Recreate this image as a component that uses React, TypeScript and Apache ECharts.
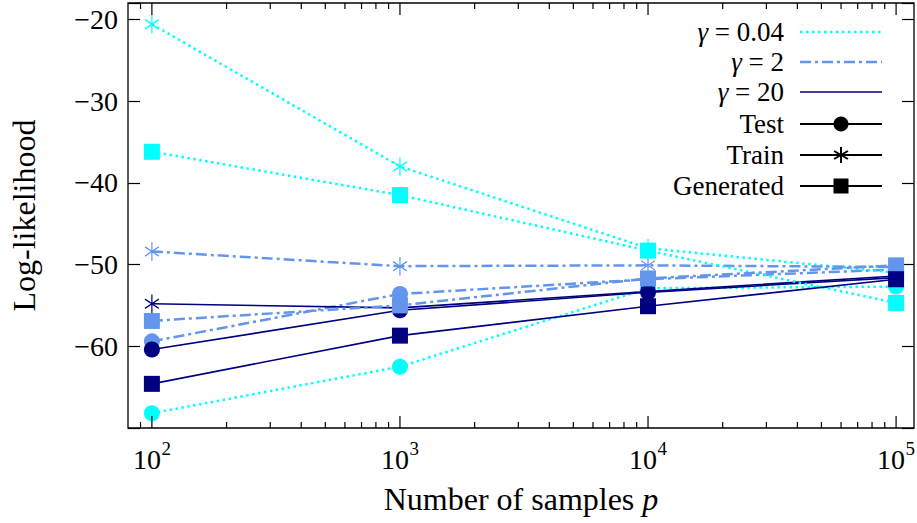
import React, { useEffect, useRef } from 'react';
import * as echarts from 'echarts';

// ---- data ----
const samples = [100, 1000, 10000, 100000];
const gammaLabels = ['0.04', '2', '20'];
const typeLabels = ['Test', 'Train', 'Generated'];

const testG004 = [-68.2, -62.5, -52.9, -52.7];
const testG2 = [-59.4, -53.6, -51.8, -50.6];
const testG20 = [-60.4, -55.6, -53.4, -51.6];

const trainG004 = [-20.6, -38.0, -48.0, -51.0];
const trainG2 = [-48.4, -50.2, -50.1, -50.3];
const trainG20 = [-54.8, -55.3, -53.3, -51.4];

const genG004 = [-36.2, -41.5, -48.3, -54.7];
const genG2 = [-56.9, -55.0, -51.7, -50.1];
const genG20 = [-64.6, -58.7, -55.1, -51.8];

const majorExponents = [2, 3, 4, 5];
const minorMultipliers = [2, 3, 4, 5, 6, 7, 8, 9];
const yTickStep = 10;

// ---- styling ----
const SERIF = 'Liberation Serif';
const CYAN = '#00FFFF';
const BLUE = '#6495ED';
const NAVY = '#000080';
const X_MIN = 1.9037;
const X_MAX = 5.0722;
const Y_MIN = -70;
const Y_MAX = -18;

const STAR_PATH = 'path://M0,-10L0,10M-8.66,-5L8.66,5M-8.66,5L8.66,-5';

const gammaColors = [CYAN, BLUE, NAVY];
const gammaLineStyles: any[] = [
  { type: [2.5, 3.5], width: 2.5, cap: 'butt' },
  { type: [11, 4, 3, 4], width: 2.5, cap: 'butt' },
  { type: 'solid', width: 1.6 },
];

function toPoints(vals: number[]) {
  return samples.map((p, i) => [Math.log10(p), vals[i]]);
}

function makeSeries(name: string, vals: number[], gi: number, kind: 'circle' | 'star' | 'square') {
  const color = gammaColors[gi];
  let symbol: string = 'circle';
  let symbolSize: any = 16;
  let itemStyle: any = { color, borderColor: color, borderWidth: 0 };
  if (kind === 'square') {
    symbol = 'rect';
    symbolSize = 16;
  } else if (kind === 'star') {
    symbol = STAR_PATH;
    symbolSize = [16, 18.5];
    itemStyle = { color, borderColor: color, borderWidth: 1.3 };
  }
  return {
    type: 'line',
    name,
    data: toPoints(vals),
    symbol,
    symbolSize,
    symbolKeepAspect: true,
    showAllSymbol: true,
    lineStyle: { color, ...gammaLineStyles[gi] },
    itemStyle,
    silent: true,
    emphasis: { disabled: true },
    z: 3,
  };
}

function buildTickData() {
  const d: number[][] = [];
  majorExponents.forEach((e) => d.push([e, 1, e]));
  for (let n = 1; n <= 5; n++) {
    minorMultipliers.forEach((k) => {
      const v = Math.log10(k * Math.pow(10, n));
      if (v > X_MIN + 0.001 && v < X_MAX - 0.001) d.push([v, 0, 0]);
    });
  }
  return d;
}

function textStyle(text: string, size: number, align: string, valign: string, extra: any = {}) {
  return {
    text,
    fontSize: size,
    fontFamily: SERIF,
    fill: '#000',
    align,
    verticalAlign: valign,
    textAlign: align,
    textVerticalAlign: valign,
    ...extra,
  };
}

function legendGraphics() {
  const els: any[] = [];
  const textX = 784;
  const lx1 = 800;
  const lx2 = 882;
  const mx = 841;
  const rows = [32, 62, 92, 124, 155, 186];
  gammaLabels.forEach((g, i) => {
    const y = rows[i];
    els.push({
      type: 'text',
      x: textX,
      y,
      style: textStyle('{i|γ} = ' + g, 27, 'right', 'middle', {
        rich: { i: { fontStyle: 'italic', fontSize: 27, fontFamily: SERIF, fill: '#000' } },
      }),
    });
    const ls = gammaLineStyles[i];
    els.push({
      type: 'line',
      shape: { x1: lx1, y1: y, x2: lx2, y2: y },
      style: {
        stroke: gammaColors[i],
        lineWidth: ls.width,
        lineDash: Array.isArray(ls.type) ? ls.type : null,
        lineCap: 'butt',
      },
    });
  });
  typeLabels.forEach((t, j) => {
    const y = rows[3 + j];
    els.push({ type: 'text', x: textX, y, style: textStyle(t, 27, 'right', 'middle') });
    els.push({
      type: 'line',
      shape: { x1: lx1, y1: y, x2: lx2, y2: y },
      style: { stroke: '#000', lineWidth: 2 },
    });
    if (j === 0) {
      els.push({ type: 'circle', shape: { cx: mx, cy: y, r: 7.5 }, style: { fill: '#000' } });
    } else if (j === 1) {
      const r = 8;
      const c = Math.cos(Math.PI / 6) * r;
      const s = Math.sin(Math.PI / 6) * r;
      els.push({ type: 'line', shape: { x1: mx, y1: y - r, x2: mx, y2: y + r }, style: { stroke: '#000', lineWidth: 2 } });
      els.push({ type: 'line', shape: { x1: mx - c, y1: y - s, x2: mx + c, y2: y + s }, style: { stroke: '#000', lineWidth: 2 } });
      els.push({ type: 'line', shape: { x1: mx - c, y1: y + s, x2: mx + c, y2: y - s }, style: { stroke: '#000', lineWidth: 2 } });
    } else {
      els.push({ type: 'rect', shape: { x: mx - 7.5, y: y - 7.5, width: 15, height: 15 }, style: { fill: '#000' } });
    }
  });
  return els;
}

export default function App() {
  const ref = useRef<HTMLDivElement>(null);
  useEffect(() => {
    document.body.style.margin = '0';
    if (!ref.current) return;
    const chart = echarts.init(ref.current, undefined, { renderer: 'svg' });
    const yFormatter = (v: number) => {
      if (v % yTickStep !== 0 || v <= Y_MIN || v > -20) return '';
      return (v < 0 ? '\u2212' : '') + Math.abs(v);
    };
    const option: any = {
      animation: false,
      backgroundColor: '#fff',
      textStyle: { fontFamily: SERIF },
      grid: {
        left: 124,
        right: 3,
        top: 3,
        bottom: 95,
        show: true,
        borderColor: '#000',
        borderWidth: 1.3,
        backgroundColor: 'transparent',
      },
      xAxis: {
        type: 'value',
        min: X_MIN,
        max: X_MAX,
        axisLine: { show: false },
        axisTick: { show: false },
        axisLabel: { show: false },
        splitLine: { show: false },
        name: 'Number of samples {i|p}',
        nameLocation: 'middle',
        nameGap: 55,
        nameTextStyle: {
          fontSize: 32,
          fontFamily: SERIF,
          color: '#000',
          rich: { i: { fontSize: 32, fontFamily: SERIF, fontStyle: 'italic', color: '#000' } },
        },
      },
      yAxis: [
        {
          type: 'value',
          min: Y_MIN,
          max: Y_MAX,
          interval: yTickStep,
          position: 'left',
          axisLine: { show: false },
          axisTick: { show: true, inside: true, length: 12, lineStyle: { color: '#000', width: 1.2 } },
          axisLabel: { fontSize: 28, fontFamily: SERIF, color: '#000', margin: 10, formatter: yFormatter },
          splitLine: { show: false },
          name: 'Log-likelihood',
          nameLocation: 'middle',
          nameRotate: 90,
          nameGap: 88,
          nameTextStyle: { fontSize: 32, fontFamily: SERIF, color: '#000' },
        },
        {
          type: 'value',
          min: Y_MIN,
          max: Y_MAX,
          interval: yTickStep,
          position: 'right',
          axisLine: { show: false },
          axisTick: { show: true, inside: true, length: 12, lineStyle: { color: '#000', width: 1.2 } },
          axisLabel: { show: false },
          splitLine: { show: false },
        },
      ],
      series: [
        makeSeries('Test γ=0.04', testG004, 0, 'circle'),
        makeSeries('Test γ=2', testG2, 1, 'circle'),
        makeSeries('Test γ=20', testG20, 2, 'circle'),
        makeSeries('Train γ=0.04', trainG004, 0, 'star'),
        makeSeries('Train γ=2', trainG2, 1, 'star'),
        makeSeries('Train γ=20', trainG20, 2, 'star'),
        makeSeries('Generated γ=0.04', genG004, 0, 'square'),
        makeSeries('Generated γ=2', genG2, 1, 'square'),
        makeSeries('Generated γ=20', genG20, 2, 'square'),
        {
          type: 'custom',
          name: 'xticks',
          data: buildTickData(),
          clip: false,
          silent: true,
          z: 5,
          renderItem: (params: any, api: any) => {
            const x = api.value(0) as number;
            const major = api.value(1) === 1;
            const exp = api.value(2);
            const b = api.coord([x, Y_MIN]);
            const t = api.coord([x, Y_MAX]);
            const len = major ? 12 : 6;
            const children: any[] = [
              { type: 'line', shape: { x1: b[0], y1: b[1], x2: b[0], y2: b[1] - len }, style: { stroke: '#000', lineWidth: 1.2 } },
              { type: 'line', shape: { x1: b[0], y1: t[1], x2: b[0], y2: t[1] + len }, style: { stroke: '#000', lineWidth: 1.2 } },
            ];
            if (major) {
              children.push({ type: 'text', x: b[0] - 5, y: b[1] + 31, style: textStyle('10', 28, 'center', 'middle') });
              children.push({ type: 'text', x: b[0] + 9.5, y: b[1] + 20, style: textStyle(String(exp), 19, 'left', 'middle') });
            }
            return { type: 'group', children };
          },
        },
      ],
      graphic: { elements: legendGraphics() },
    };
    chart.setOption(option);
    return () => chart.dispose();
  }, []);
  return <div ref={ref} style={{ width: 917, height: 523 }} />;
}
